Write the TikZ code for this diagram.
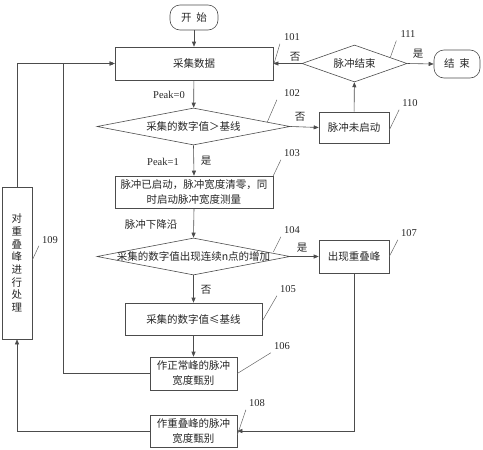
\documentclass[tikz,border=0pt]{standalone}
\usepackage{fontspec}
\setmainfont{Liberation Serif}
\newfontfamily\cjk{Noto Sans CJK SC}
\usetikzlibrary{shapes.geometric,arrows.meta}
\begin{document}
\begin{tikzpicture}[x=1pt,y=-1pt,
  line/.style={draw=black!70, line width=0.6pt},
  arr/.style={line, -{Triangle[length=5pt,width=4pt]}},
  box/.style={draw=black!70, line width=0.6pt, rectangle, inner sep=0pt, font=\cjk\fontsize{10.5}{15}\selectfont, text=black!85, align=center},
  term/.style={box, rounded corners=10pt},
  dia/.style={draw=black!70, line width=0.6pt, diamond, inner sep=0pt},
  lbl/.style={font=\cjk\fontsize{10.5}{12}\selectfont, text=black!85, inner sep=1pt},
  num/.style={font=\fontsize{10.5}{12}\selectfont, text=black!85, inner sep=1pt},
  lead/.style={draw=black!60, line width=0.5pt}]
\useasboundingbox (0,0) rectangle (483,450);
% nodes
\node[term, minimum width=48, minimum height=25] (start) at (194,17.5) {开\hspace{5pt}始};
\node[box, minimum width=158, minimum height=33] (b101) at (194,63.5) {采集数据};
\node[dia, minimum width=193, minimum height=37, label={[lbl]center:采集的数字值＞基线}] (d102) at (193.5,126.5) {};
\node[box, minimum width=70, minimum height=31] (b110) at (354,127.5) {脉冲未启动};
\node[dia, minimum width=105, minimum height=37, label={[lbl]center:脉冲结束}] (d111) at (354.5,63.5) {};
\node[term, minimum width=46, minimum height=28] (end) at (457,64) {结\hspace{5pt}束};
\node[box, minimum width=158, minimum height=32] (b103) at (194,192) {脉冲已启动，脉冲宽度清零，同\\时启动脉冲宽度测量};
\node[dia, minimum width=193, minimum height=37, label={[lbl]center:采集的数字值出现连续n点的增加}] (d104) at (193.5,256.5) {};
\node[box, minimum width=70, minimum height=33] (b107) at (354,256.5) {出现重叠峰};
\node[box, minimum width=137, minimum height=32] (b105) at (193.5,319) {采集的数字值≤基线};
\node[box, minimum width=87, minimum height=33] (b106) at (193.5,373.5) {作正常峰的脉冲\\宽度甄别};
\node[box, minimum width=87, minimum height=32] (b108) at (193.5,431) {作重叠峰的脉冲\\宽度甄别};
\node[box, minimum width=30, minimum height=152, font=\cjk\fontsize{10.5}{12.7}\selectfont] (b109) at (17,263) {对\\重\\叠\\峰\\进\\行\\处\\理};
\coordinate (c1) at (63,0);
% connectors
\draw[arr] (start) -- (b101);
\draw[arr] (b101) -- (d102);
\draw[arr] (d102.east) -- (b110.west);
\draw[arr] (b110) -- (d111);
\draw[arr] (d111.east) -- (end.west);
\draw[arr] (d111.west) -- (b101.east);
\draw[arr] (d102.south) -- (b103.north);
\draw[arr] (b103.south) -- (d104.north);
\draw[arr] (d104.east) -- (b107.west);
\draw[arr] (d104.south) -- (b105.north);
\draw[arr] (b105) -- (b106);
\draw[arr] (b106.west) -| (c1 |- b101.west) -- (b101.west);
\draw[arr] (b107.south) |- (b108.east);
\draw[arr] (b108.west) -| (b109.south);
\draw[arr] (b109.north) |- (b101.west);
% edge labels
\node[num] (p0) at (169,95) {Peak=0};
\node[num] (p1) at (163,162) {Peak=1};
\node[lbl] (y1) at (206,161) {是};
\node[lbl] (n1) at (300,117) {否};
\node[lbl] (n2) at (295,57) {否};
\node[lbl] (y2) at (418,54) {是};
\node[lbl] (fall) at (151,225) {脉冲下降沿};
\node[lbl] (y3) at (302,248) {是};
\node[lbl] (n3) at (206,290) {否};
% reference numbers
\node[num] (r101) at (292,37) {101};
\node[num] (r111) at (408,34) {111};
\node[num] (r102) at (292,93) {102};
\node[num] (r110) at (410,103) {110};
\node[num] (r103) at (292,153) {103};
\node[num] (r104) at (292,230) {104};
\node[num] (r107) at (409,233) {107};
\node[num] (r105) at (288,289) {105};
\node[num] (r106) at (282,346) {106};
\node[num] (r108) at (257,403) {108};
\node[num] (r109) at (50,240) {109};
\draw[lead] ([yshift=-2.5pt]b101.east) -- ([xshift=-3pt,yshift=-2pt]r101.south west);
\draw[lead] (d111.east) ++(-17,-6) -- ([xshift=-3pt,yshift=-2pt]r111.south west);
\draw[lead] (d102.east) ++(-23,-4.5) -- ([xshift=-6pt,yshift=-2pt]r102.south west);
\draw[lead] ([yshift=-2.5pt]b110.east) -- ([xshift=-2pt,yshift=-2pt]r110.south west);
\draw[lead] (b103.north east) -- ([xshift=-2pt,yshift=-2pt]r103.south west);
\draw[lead] (d104.east) ++(-17,-4.5) -- ([xshift=-2pt,yshift=-2pt]r104.south west);
\draw[lead] (b107.east) -- ([xshift=-2pt,yshift=-2pt]r107.south west);
\draw[lead] ([yshift=-2pt]b105.east) -- ([xshift=-2pt,yshift=-2pt]r105.south west);
\draw[lead] (b106.east) -- ([xshift=-2pt,yshift=-2pt]r106.south west);
\draw[lead] ([yshift=-4pt]b108.east) -- ([xshift=-2pt,yshift=-2pt]r108.south west);
\draw[lead] ([yshift=3pt]b109.east) -- ([xshift=-2pt,yshift=-1pt]r109.south west);
\end{tikzpicture}
\end{document}
